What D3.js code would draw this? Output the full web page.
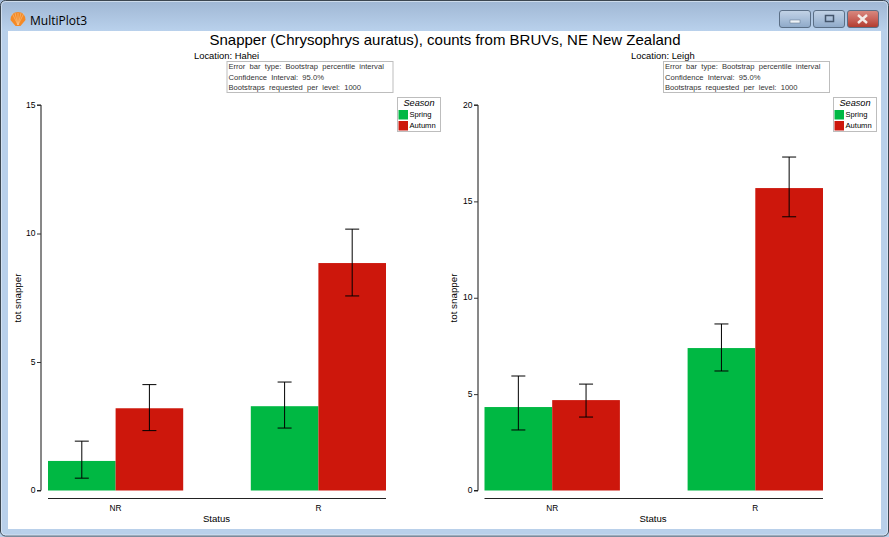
<!DOCTYPE html>
<html>
<head>
<meta charset="utf-8">
<script src="https://cdn.jsdelivr.net/npm/d3@7"></script>
<style>
html,body{margin:0;padding:0;background:#fff;overflow:hidden}
text{font-family:"Liberation Sans",Arial,sans-serif;fill:#000}
</style>
</head>
<body>
<svg id="app" width="889" height="537"></svg>
<script>
const statuses = ["NR", "R"];
const seasons = ["Spring", "Autumn"];
const seasonColors = ["#00b843", "#cd170c"];

const haheiMeans = [[1.15, 3.2], [3.28, 8.85]];
const haheiUpper = [[1.92, 4.12], [4.22, 10.17]];
const haheiLower = [[0.48, 2.33], [2.43, 7.57]];
const haheiTicks = [0, 5, 10, 15];

const leighMeans = [[4.33, 4.69], [7.39, 15.69]];
const leighUpper = [[5.94, 5.52], [8.64, 17.3]];
const leighLower = [[3.14, 3.81], [6.2, 14.2]];
const leighTicks = [0, 5, 10, 15, 20];

const infoLines = [
  "Error  bar  type:  Bootstrap  percentile  interval",
  "Confidence  Interval:  95.0%",
  "Bootstraps  requested  per  level:  1000"
];

const svg = d3.select("#app");
const defs = svg.append("defs");

const barFill = defs.append("linearGradient").attr("id", "captionFill")
  .attr("x1", 0).attr("y1", 0).attr("x2", 0).attr("y2", 1);
barFill.append("stop").attr("offset", "0").attr("stop-color", "#9fb6d3");
barFill.append("stop").attr("offset", "1").attr("stop-color", "#b9d1ec");

const closeFill = defs.append("linearGradient").attr("id", "closeFill")
  .attr("x1", 0).attr("y1", 0).attr("x2", 0).attr("y2", 1);
closeFill.append("stop").attr("offset", "0").attr("stop-color", "#d88a80");
closeFill.append("stop").attr("offset", "0.5").attr("stop-color", "#c9635a");
closeFill.append("stop").attr("offset", "1").attr("stop-color", "#b03a2c");

const btnFill = defs.append("linearGradient").attr("id", "btnFill")
  .attr("x1", 0).attr("y1", 0).attr("x2", 0).attr("y2", 1);
btnFill.append("stop").attr("offset", "0").attr("stop-color", "#c3d3e6");
btnFill.append("stop").attr("offset", "0.5").attr("stop-color", "#a9bfd9");
btnFill.append("stop").attr("offset", "1").attr("stop-color", "#8ea9c8");

// window frame
const frame = svg.append("g");
frame.append("rect").attr("width", 889).attr("height", 537).attr("fill", "#b9d0ea");
frame.append("rect").attr("x", 0).attr("y", 0).attr("width", 889).attr("height", 31).attr("fill", "url(#captionFill)");
frame.append("rect").attr("x", 0.5).attr("y", 0.5).attr("width", 888).attr("height", 535.5)
  .attr("rx", 5).attr("fill", "none").attr("stroke", "#3c4650");
frame.append("rect").attr("x", 1.5).attr("y", 1.5).attr("width", 886).attr("height", 533.5)
  .attr("rx", 4).attr("fill", "none").attr("stroke", "#dfeaf5").attr("stroke-opacity", 0.7);
frame.append("rect").attr("x", 8).attr("y", 31).attr("width", 873).attr("height", 498).attr("fill", "#fff");
frame.append("text").attr("x", 30).attr("y", 24.5).attr("font-size", 12)
  .style("font-family", "'Open Sans','Noto Sans',sans-serif").text("MultiPlot3");

// scallop-shell application icon
const shell = frame.append("g").attr("transform", "translate(18,26)");
shell.append("path").attr("d", "M-2.5,0 L2.5,0 L7.5,-6 Q7,-14 0,-14 Q-7,-14 -7.5,-6 Z").attr("fill", "#f58a26");
[-4, -2, 0, 2, 4].forEach(d => shell.append("line")
  .attr("x1", 0).attr("y1", -1).attr("x2", d * 1.5).attr("y2", -13)
  .attr("stroke", "#fbcf9d").attr("stroke-width", 0.5));

// caption buttons
[[779, 31, "url(#btnFill)"], [813, 31, "url(#btnFill)"], [847, 31, "url(#closeFill)"]].forEach(([x, w, fill]) => {
  frame.append("rect").attr("x", x + 0.5).attr("y", 10.5).attr("width", w).attr("height", 17)
    .attr("rx", 2.5).attr("fill", fill).attr("stroke", "#5b6f86");
});
frame.append("rect").attr("x", 790).attr("y", 20).attr("width", 10).attr("height", 3).attr("fill", "#eef3f8").attr("stroke", "#5b6f86").attr("stroke-width", 0.5);
frame.append("rect").attr("x", 825.5).attr("y", 15.5).attr("width", 8).attr("height", 6).attr("fill", "none").attr("stroke", "#44566c").attr("stroke-width", 1.5);
frame.append("path").attr("d", "M858,15 L867,23 M867,15 L858,23").attr("stroke", "#f4ece8").attr("stroke-width", 2.4);

svg.append("text").attr("x", 445).attr("y", 44.5).attr("text-anchor", "middle")
  .attr("font-size", 15).text("Snapper (Chrysophrys auratus), counts from BRUVs, NE New Zealand");

const panels = [
  { place: "Hahei", means: haheiMeans, upper: haheiUpper, lower: haheiLower, ticks: haheiTicks, top: 15,
    x0: 48, x1: 386, axisX: 41, labelX: 35, titleX: 194, infoX: 227, legendX: 397.5, yLabelX: 21, statusX: 216.5 },
  { place: "Leigh", means: leighMeans, upper: leighUpper, lower: leighLower, ticks: leighTicks, top: 20,
    x0: 484.5, x1: 823, axisX: 478, labelX: 472, titleX: 631, infoX: 663.5, legendX: 833.5, yLabelX: 457, statusX: 653 }
];

panels.forEach(p => {
  const g = svg.append("g");
  const y = d3.scaleLinear().domain([0, p.top]).range([490.5, 105]);
  const x = d3.scaleBand().domain(statuses).range([p.x0, p.x1]).paddingInner(1 / 3).paddingOuter(0);
  const sub = d3.scaleBand().domain(seasons).range([0, x.bandwidth()]);

  statuses.forEach((st, i) => {
    seasons.forEach((se, j) => {
      const cx = x(st) + sub(se) + sub.bandwidth() / 2;
      g.append("rect")
        .attr("x", x(st) + sub(se)).attr("y", y(p.means[i][j]))
        .attr("width", sub.bandwidth()).attr("height", y(0) - y(p.means[i][j]))
        .attr("fill", seasonColors[j]);
      const hi = y(p.upper[i][j]);
      const lo = y(p.lower[i][j]);
      g.append("path")
        .attr("d", `M${cx - 7},${hi}H${cx + 7}M${cx},${hi}V${lo}M${cx - 7},${lo}H${cx + 7}`)
        .attr("fill", "none").attr("stroke", "#000").attr("stroke-width", 1);
    });
  });

  // value axis: ticks from the scale, tick marks pointing left of the spine
  const yAxis = d3.axisLeft(y).tickValues(p.ticks).tickSize(4).tickPadding(1.5).tickFormat(d3.format("d"));
  const ya = g.append("g").attr("transform", `translate(${p.axisX},0)`).call(yAxis);
  ya.select(".domain").attr("stroke", "#111").attr("d", "M-4,105H0V490.5H-4");
  ya.selectAll("line").attr("stroke", "#333");
  ya.selectAll("text").attr("font-size", 8.5).attr("dy", "0.25em").style("font-family", "'Liberation Sans',sans-serif").attr("fill", "#000");

  // category axis sits below the bars, with no tick marks
  const xAxis = d3.axisBottom(x).tickSize(0).tickPadding(6.5);
  const xa = g.append("g").attr("transform", "translate(0,498.5)").call(xAxis);
  xa.select(".domain").attr("stroke", "#222").attr("d", `M${p.x0},0H${p.x1}`);
  xa.selectAll("text").attr("font-size", 8.3).style("font-family", "'Liberation Sans',sans-serif").attr("fill", "#000");

  g.append("text").attr("x", p.statusX).attr("y", 522).attr("text-anchor", "middle")
    .attr("font-size", 9.6).text("Status");
  g.append("text").attr("transform", `translate(${p.yLabelX},298) rotate(-90)`).attr("text-anchor", "middle")
    .attr("font-size", 9.8).text("tot snapper");

  g.append("text").attr("x", p.titleX).attr("y", 59).attr("font-size", 9.4).text(`Location: ${p.place}`);

  // bootstrap settings note
  g.append("rect").attr("x", p.infoX).attr("y", 61.5).attr("width", 166).attr("height", 31)
    .attr("fill", "#fff").attr("stroke", "#bdbdbd");
  infoLines.forEach((line, i) => {
    g.append("text").attr("x", p.infoX + 1.5).attr("y", 69 + i * 10.5).attr("font-size", 7.6)
      .attr("xml:space", "preserve").style("white-space", "pre").style("fill", "#333").text(line);
  });

  // legend
  const lg = g.append("g").attr("transform", `translate(${p.legendX},97.5)`);
  lg.append("rect").attr("width", 43).attr("height", 34).attr("fill", "#fff").attr("stroke", "#bdbdbd");
  lg.append("text").attr("x", 21.5).attr("y", 8.5).attr("text-anchor", "middle")
    .attr("font-size", 9.2).attr("font-style", "italic").text("Season");
  seasons.forEach((se, j) => {
    lg.append("rect").attr("x", 1).attr("y", 12.5 + j * 11).attr("width", 9.5).attr("height", 9.5).attr("fill", seasonColors[j]);
    lg.append("text").attr("x", 12).attr("y", 19.5 + j * 11).attr("font-size", 7.6).text(se);
  });
});
</script>
</body>
</html>
